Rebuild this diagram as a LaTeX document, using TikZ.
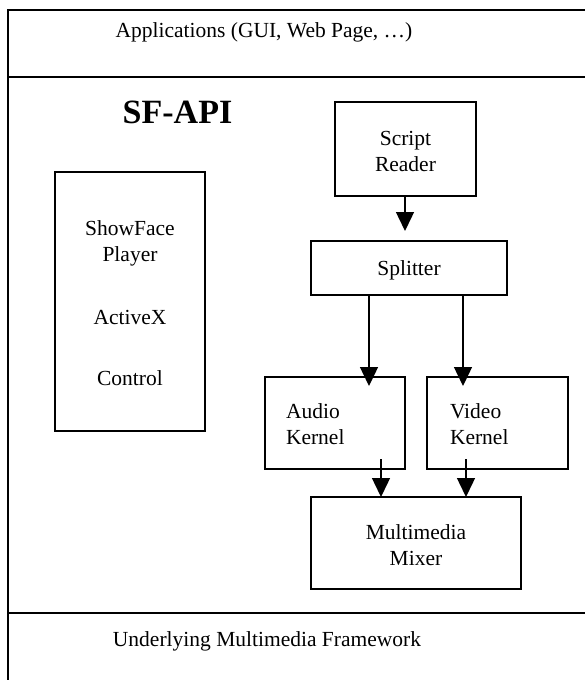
\documentclass[tikz,border=0pt]{standalone}
\usepackage{fontspec}
\setmainfont{Liberation Serif}
\usetikzlibrary{arrows.meta,calc}
\begin{document}
\begin{tikzpicture}[x=1pt,y=-1pt,
  every node/.style={inner sep=0pt, outer sep=0pt},
  txt/.style={font=\fontsize{21.5}{26}\selectfont, align=center},
  blk/.style={draw, line width=1.4pt, anchor=north west},
  arr/.style={line width=1.4pt, -{Triangle[length=19pt,width=18pt]}}]
\useasboundingbox (0,0) rectangle (585,680);
\clip (0,0) rectangle (585,680);
% outer frame
\draw[line width=1.8pt] (8,700) -- (8,10) -- (600,10);
\draw[line width=1.8pt] (8,77) -- (600,77);
\draw[line width=1.8pt] (8,613) -- (600,613);
\node[txt, anchor=base] (apps) at (264,37) {Applications (GUI, Web Page, \dots)};
\node[txt, anchor=base] (under) at (267,646) {Underlying Multimedia Framework};
\node[anchor=base, font=\fontsize{34}{40}\selectfont\bfseries] (sfapi) at (177.5,123) {SF-API};
% boxes
\node[blk, minimum width=150pt, minimum height=259pt] (player) at (55,172) {};
\node[txt] (playertxt) at (130,303) {ShowFace\\Player\\[37pt]ActiveX\\[35pt]Control};
\node[blk, minimum width=141pt, minimum height=94pt] (reader) at (335,102) {};
\node[txt] (readertxt) at (405.5,151) {Script\\Reader};
\node[blk, minimum width=196pt, minimum height=54pt] (splitter) at (311,241) {};
\node[txt] (splittertxt) at (409,270) {Splitter};
\node[blk, minimum width=140pt, minimum height=92pt] (audio) at (265,377) {};
\node[txt, align=left, anchor=west] (audiotxt) at (286,424) {Audio\\Kernel};
\node[blk, minimum width=141pt, minimum height=92pt] (video) at (427,377) {};
\node[txt, align=left, anchor=west] (videotxt) at (450,424) {Video\\Kernel};
\node[blk, minimum width=210pt, minimum height=92pt] (mixer) at (311,497) {};
\node[txt] (mixertxt) at (416,545) {Multimedia\\Mixer};
% connectors
\coordinate (r0) at (405,0);
\draw[arr] (reader.south -| r0) -- ([yshift=10pt]splitter.north -| r0);
\coordinate (a0) at (369,386);
\coordinate (v0) at (463,386);
\draw[arr] (splitter.south -| a0) -- (a0);
\draw[arr] (splitter.south -| v0) -- (v0);
\coordinate (a1) at (381,459);
\coordinate (v1) at (466,459);
\draw[arr] (a1) -- (a1 |- mixer.north);
\draw[arr] (v1) -- (v1 |- mixer.north);
\end{tikzpicture}
\end{document}
